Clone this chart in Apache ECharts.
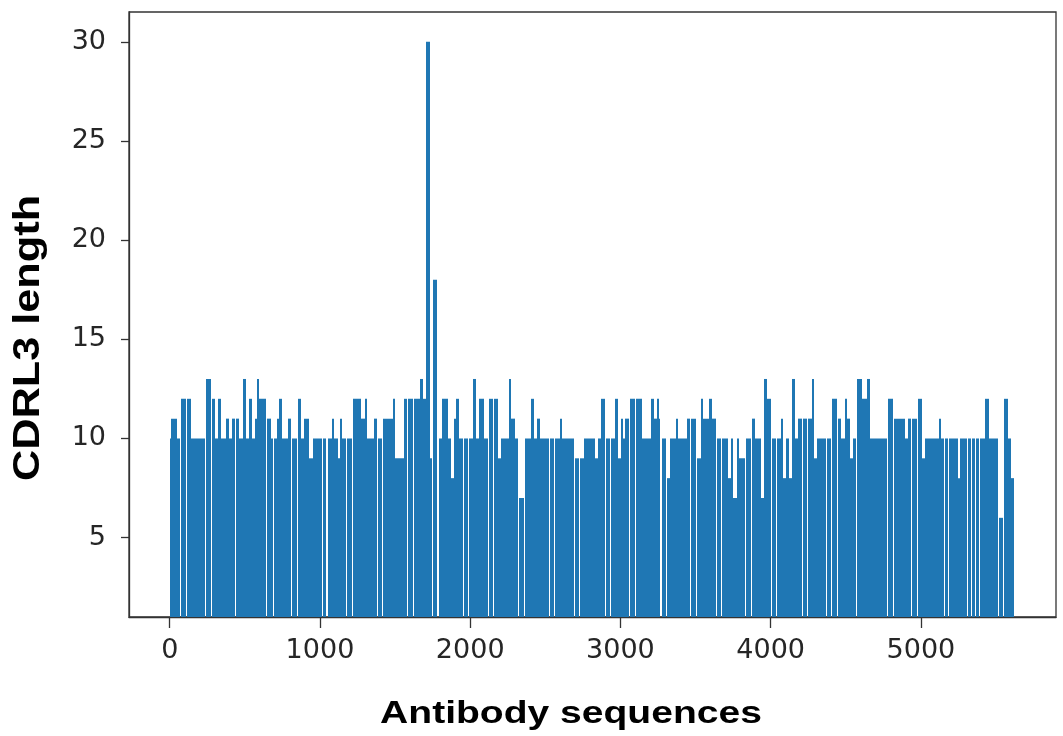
<!DOCTYPE html>
<html>
<head>
<meta charset="utf-8">
<title>CDRL3 length</title>
<script src="https://cdn.jsdelivr.net/npm/echarts@6.0.0/dist/echarts.min.js"></script>
<style>
  html, body { margin: 0; padding: 0; background: #fff; }
  #chart { width: 1063px; height: 736px; }
</style>
</head>
<body>
<div id="chart"></div>
<script>
// CDRL3 length per antibody sequence, read off the picture as runs:
// runStart[i] is the first sequence index of a run, runValue[i] its length (0 = no bar)
var runStart = [
  0, 8, 46, 68, 75, 107, 114, 141, 236, 243, 275, 282, 303, 321, 341, 374, 397, 414, 436, 443,
  463, 486, 508, 526, 546, 566, 581, 597, 641, 648, 674, 688, 695, 712, 730, 748, 786, 807, 814, 845,
  852, 874, 897, 930, 952, 1012, 1019, 1044, 1051, 1081, 1094, 1121, 1134, 1148, 1174, 1181, 1213, 1220, 1274, 1297,
  1314, 1357, 1380, 1387, 1415, 1422, 1485, 1501, 1563, 1582, 1589, 1618, 1625, 1668, 1685, 1703, 1730, 1749, 1756, 1781,
  1790, 1814, 1852, 1874, 1890, 1908, 1926, 1951, 1958, 1988, 1995, 2019, 2037, 2059, 2092, 2119, 2126, 2152, 2159, 2186,
  2203, 2259, 2274, 2297, 2321, 2328, 2358, 2365, 2408, 2426, 2446, 2463, 2523, 2530, 2558, 2565, 2597, 2612, 2690, 2697,
  2727, 2734, 2757, 2830, 2852, 2874, 2896, 2903, 2930, 2937, 2963, 2981, 3001, 3019, 3034, 3058, 3065, 3097, 3104, 3146,
  3201, 3223, 3241, 3257, 3267, 3274, 3301, 3308, 3330, 3368, 3386, 3441, 3463, 3470, 3504, 3511, 3534, 3552, 3592, 3608,
  3634, 3641, 3668, 3675, 3714, 3737, 3752, 3774, 3792, 3827, 3834, 3868, 3875, 3897, 3934, 3957, 3979, 4001, 4008, 4037,
  4044, 4068, 4085, 4103, 4123, 4141, 4163, 4181, 4206, 4213, 4241, 4248, 4274, 4292, 4308, 4368, 4375, 4404, 4411, 4443,
  4450, 4468, 4492, 4508, 4530, 4548, 4569, 4576, 4608, 4641, 4659, 4775, 4782, 4813, 4820, 4897, 4912, 4935, 4942, 4976,
  4983, 5008, 5030, 5119, 5134, 5154, 5161, 5182, 5189, 5248, 5263, 5304, 5311, 5332, 5339, 5360, 5367, 5388, 5395, 5430,
  5452, 5513, 5520, 5546, 5553, 5581, 5601
];
var runValue = [
  10, 11, 10, 0, 12, 0, 12, 10, 0, 13, 0, 12, 10, 12, 10, 11, 10, 11, 0, 11,
  10, 13, 10, 12, 10, 11, 13, 12, 0, 11, 10, 0, 10, 11, 12, 10, 11, 0, 10, 0,
  12, 10, 11, 9, 10, 0, 10, 0, 10, 11, 10, 9, 11, 10, 0, 10, 0, 12, 11, 12,
  10, 11, 0, 10, 0, 11, 12, 9, 12, 0, 12, 0, 12, 13, 12, 30, 9, 0, 18, 0,
  10, 12, 10, 8, 11, 12, 10, 0, 10, 0, 10, 13, 10, 12, 10, 0, 12, 0, 12, 9,
  10, 13, 11, 10, 0, 7, 0, 10, 12, 10, 11, 10, 0, 10, 0, 10, 11, 10, 0, 9,
  0, 9, 10, 9, 10, 12, 0, 10, 0, 10, 12, 9, 11, 10, 11, 0, 12, 0, 12, 10,
  12, 11, 12, 11, 0, 10, 0, 8, 10, 11, 10, 11, 0, 11, 0, 9, 12, 11, 12, 11,
  0, 10, 0, 10, 8, 10, 7, 10, 9, 0, 10, 0, 11, 10, 7, 13, 12, 0, 10, 0,
  10, 11, 8, 10, 8, 13, 10, 11, 0, 11, 0, 11, 13, 9, 10, 0, 10, 0, 12, 0,
  11, 10, 12, 11, 9, 10, 0, 13, 12, 13, 10, 0, 12, 0, 11, 10, 11, 0, 11, 0,
  12, 9, 10, 11, 10, 0, 10, 0, 10, 8, 10, 0, 10, 0, 10, 0, 10, 0, 10, 12,
  10, 0, 6, 0, 12, 10, 8
];
var seqEnd = 5623;

var xTicks = [0, 1000, 2000, 3000, 4000, 5000];
var yTicks = [5, 10, 15, 20, 25, 30];

var xMin = -271, xMax = 5899;
var yMin = 1, yMax = 31.5;
var barColor = '#1f77b4';

// [start, end, value] for every run that has a bar
var bars = [];
for (var i = 0; i < runStart.length; i++) {
    if (runValue[i] > 0) {
        var end = i + 1 < runStart.length ? runStart[i + 1] : seqEnd;
        bars.push([runStart[i], end, runValue[i]]);
    }
}

var myChart = echarts.init(document.getElementById('chart'), null, {renderer: 'canvas'});

var option = {
    animation: false,
    grid: {
        left: 129,
        right: 7,
        top: 12,
        bottom: 119,
        show: true,
        borderColor: '#333',
        borderWidth: 1.3,
        backgroundColor: '#fff'
    },
    xAxis: {
        type: 'value',
        min: xMin,
        max: xMax,
        splitLine: {show: false},
        axisLine: {onZero: false, lineStyle: {color: '#333', width: 1.3}},
        axisTick: {
            customValues: xTicks,
            length: 11,
            lineStyle: {color: '#333', width: 1.3}
        },
        axisLabel: {
            customValues: xTicks,
            formatter: function (v) { return String(v); },
            margin: 20,
            color: '#262626',
            fontFamily: 'DejaVu Sans',
            fontSize: 27
        }
    },
    yAxis: {
        type: 'value',
        min: yMin,
        max: yMax,
        splitLine: {show: false},
        axisLine: {show: true, onZero: false, lineStyle: {color: '#333', width: 1.3}},
        axisTick: {
            show: true,
            customValues: yTicks,
            length: 8,
            lineStyle: {color: '#333', width: 1.3}
        },
        axisLabel: {
            customValues: yTicks,
            formatter: function (v) { return String(v); },
            margin: 23,
            color: '#262626',
            fontFamily: 'DejaVu Sans',
            fontSize: 27
        }
    },
    series: [
        {
            type: 'custom',
            data: bars,
            encode: {x: [0, 1], y: 2},
            renderItem: function (params, api) {
                var top = api.coord([api.value(0) - 0.5, api.value(2)]);
                var bottom = api.coord([api.value(1) - 0.5, yMin]);
                var x0 = Math.round(top[0]);
                var x1 = Math.round(bottom[0]);
                return {
                    type: 'rect',
                    shape: {x: x0, y: top[1], width: x1 - x0, height: bottom[1] - top[1]},
                    style: {fill: barColor}
                };
            }
        }
    ],
    graphic: [
        {
            type: 'text',
            x: 571,
            y: 714,
            scaleX: 1.22,
            style: {
                text: 'Antibody sequences',
                fontFamily: 'Liberation Sans',
                fontWeight: 'bold',
                fontSize: 32,
                fill: '#000',
                align: 'center',
                verticalAlign: 'middle'
            }
        },
        {
            type: 'text',
            x: 29,
            y: 338,
            rotation: Math.PI / 2,
            scaleX: 1.17,
            style: {
                text: 'CDRL3 length',
                fontFamily: 'Liberation Sans',
                fontWeight: 'bold',
                fontSize: 37,
                fill: '#000',
                align: 'center',
                verticalAlign: 'middle'
            }
        }
    ]
};
myChart.setOption(option);
</script>
</body>
</html>
